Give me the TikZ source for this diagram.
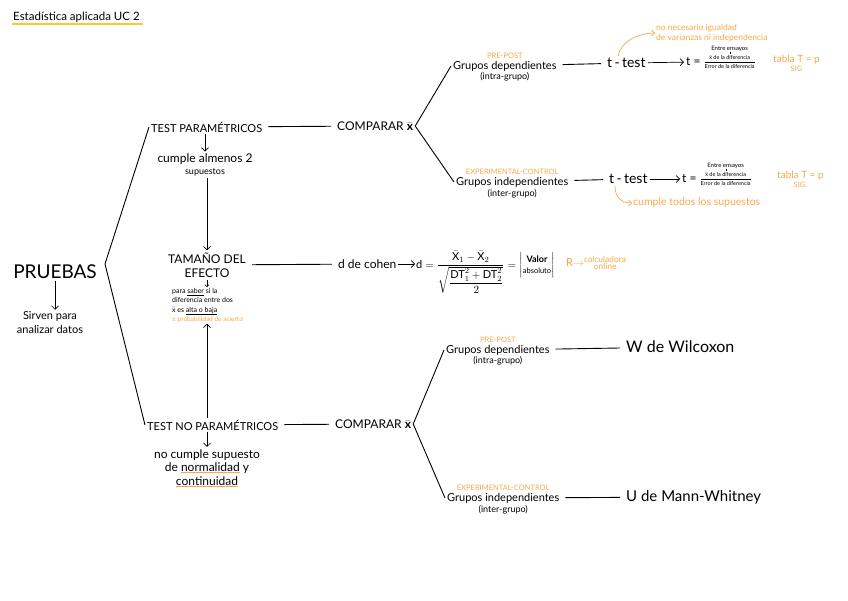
\documentclass[tikz,border=0pt]{standalone}
\usepackage{fontspec}
\setmainfont{Lato}
\usepackage{amsmath}
\usetikzlibrary{calc}
\usetikzlibrary{positioning}
\usetikzlibrary{arrows.meta}
\definecolor{naranja}{RGB}{247,168,74}
\definecolor{amarillo}{RGB}{246,204,40}

% underline in a given colour: [thickness]{colour}{text}
\newcommand{\subrayado}[3][0.5pt]{\setbox0\hbox{#3}\rlap{\color{#2}\rule[-1.8pt]{\wd0}{#1}}\box0\relax}

\begin{document}
\begin{tikzpicture}[x=1pt, y=-1pt,
	fs/.style 2 args = {font=\fontsize{#1}{#2}\selectfont},
	txt/.style = {inner sep=2pt, align=center},
	nota/.style = {inner sep=1pt, align=center, text=naranja},
	rama/.style = {line width=0.9pt, shorten <=4pt, shorten >=4pt},
	llave/.style = {line width=0.9pt},
	flecha/.style = {-{Straight Barb[length=3.5pt, width=7pt]}, line width=0.7pt},
	flechita/.style = {-{Straight Barb[length=2pt, width=4pt]}, line width=0.5pt},
	flechanota/.style = {-{Straight Barb[length=3pt, width=6pt]}, line width=0.7pt, draw=naranja}
]

\useasboundingbox (0,0) rectangle (848,600);

% Title with yellow underline
\node[txt, fs={11.5}{13}, anchor=base west] (titulo) at (11,20) {Estadística aplicada UC 2};
\draw[amarillo, line width=2pt] ($(titulo.base west)+(1,3.5)$) -- ($(titulo.base east)+(1,3.5)$);

% Root of the map
\node[txt, fs={19}{21}] (pruebas) at (55,272) {PRUEBAS};
\node[txt, fs={11}{14}] (sirven) at (50,323) {Sirven para\\analizar datos};
\draw[flecha] (pruebas) -- (pruebas |- sirven.north);
\coordinate (vertice) at (105,264);

% Parametric tests
\node[txt, fs={11}{13}, anchor=west] (param) at (149,127) {TEST PARAMÉTRICOS};
\node[txt, fs={12}{14}, anchor=west] (comparar1) at (335,126) {COMPARAR $\bar{\textbf{x}}$};
\draw[rama] (param) -- (comparar1);
\node[txt, fs={12}{12}] (cumple) at (205,165) {cumple almenos 2\\{\fontsize{9}{10}\selectfont supuestos}};
\draw[flecha] (param.south -| cumple) -- (cumple);

% Effect size
\node[txt, fs={12}{14}] (tamano) at (207,265) {TAMAÑO DEL\\EFECTO};
\draw[flecha] (tamano.north |- cumple.south) -- (tamano.north);
\node[txt, fs={12}{14}, anchor=west] (cohen) at (336,264) {d de cohen};
\draw[rama] (tamano) -- (cohen);
\node[inner sep=1pt, align=left, fs={7}{9.5}, anchor=north west] (explica) at (171,287) {para \subrayado{black}{saber} si la\\diferencia entre dos\\$\bar{\text{x}}$ es \subrayado{black}{alta o baja}};
\node[nota, fs={6.5}{7}, anchor=north west] (acierto) at (explica.south west) {± probabilidad de acierto};
\draw[flechita] (tamano) -- (tamano |- explica.north);

% Cohen formula
\node[inner sep=1pt, fs={11}{13}, anchor=base west] (formula) at (415,268) {$\text{d}=\dfrac{\bar{\text{X}}_1-\bar{\text{X}}_2}{\sqrt{\dfrac{\text{DT}_1^2+\text{DT}_2^2}{2}}}=\left|\begin{tabular}{@{}c@{}}{\fontsize{9}{9}\selectfont\bfseries Valor}\\[-2pt]{\fontsize{7.5}{8}\selectfont absoluto}\end{tabular}\right|$};
\draw[flecha] (cohen) -- (cohen -| formula.west);
\node[nota, fs={8.5}{8}, anchor=west] (calcu) at (565,264) {{\fontsize{11}{12}\selectfont R$\rightarrow$}\begin{tabular}{@{}c@{}}calculadora\\[-2pt]online\end{tabular}};

% Non-parametric tests
\node[txt, fs={11}{13}, anchor=west] (noparam) at (145,425) {TEST NO PARAMÉTRICOS};
\node[txt, fs={12}{14}, anchor=west] (comparar2) at (333,424) {COMPARAR $\bar{\textbf{x}}$};
\draw[rama] (noparam) -- (comparar2);
\node[txt, fs={12}{13.5}] (nocumple) at (207,468) {no cumple supuesto\\de \subrayado[1.2pt]{naranja}{normalidad} y\\\subrayado[1.2pt]{naranja}{continuidad}};
\draw[flecha] (noparam.south -| nocumple) -- (nocumple);
\draw[flecha] (tamano |- noparam.north) -- (tamano |- acierto.south);

% Bracket from the root
\draw[llave] (param.west) -- (vertice) -- (noparam.west);

% Parametric: dependent groups
\node[txt, fs={11}{13}, anchor=west] (gdep1) at (451,66) {Grupos dependientes};
\node[nota, fs={7.5}{8}, above=-1pt of gdep1] (prepost1) {PRE-POST};
\node[txt, fs={9}{10}, below=-3pt of gdep1] (intra1) {(intra-grupo)};
\node[txt, fs={14}{16}, anchor=west] (ttest1) at (605,63) {t\,-\,test};
\draw[rama] (gdep1) -- (ttest1);
\node[txt, fs={12}{14}, anchor=west] (tigual1) at (684,62) {t =};
\node[inner sep=0.5pt, fs={5.5}{6}, anchor=west] (frac1) at (tigual1.east) {$\dfrac{\text{$\bar{\text{x}}$ de la diferencia}}{\text{Error de la diferencia}}$};
\node[inner sep=0.5pt, fs={6}{7}, above=2.5pt of frac1] (entre1) {Entre ensayos};
\draw[line width=0.3pt] (entre1) -- (frac1);
\draw[flecha] (ttest1) -- (tigual1);
\node[nota, fs={10}{11}, anchor=west] (tabla1) at (772,60) {tabla T = p};
\node[nota, fs={7.5}{8}, below=-1pt of tabla1] (sig1) {SIG};
\node[nota, fs={8.5}{9.5}, align=left, anchor=west] (nota1) at (655,33) {no necesario igualdad\\de varianzas ni independencia};
\draw[flechanota] ($(ttest1.north)+(-8,0)$) .. controls +(2,-16) and +(-14,0) .. (nota1.west);

% Parametric: independent groups
\node[txt, fs={11}{13}, anchor=west] (gind1) at (454,182) {Grupos independientes};
\node[nota, fs={7.5}{8}, above=-1pt of gind1] (expcon1) {EXPERIMENTAL-CONTROL};
\node[txt, fs={9}{10}, below=-2pt of gind1] (inter1) {(inter-grupo)};
\node[txt, fs={14}{16}, anchor=west] (ttest2) at (607,179) {t\,-\,test};
\draw[rama] (gind1) -- (ttest2);
\node[txt, fs={12}{14}, anchor=west] (tigual2) at (680,179) {t =};
\node[inner sep=0.5pt, fs={5.5}{6}, anchor=west] (frac2) at (tigual2.east) {$\dfrac{\text{$\bar{\text{x}}$ de la diferencia}}{\text{Error de la diferencia}}$};
\node[inner sep=0.5pt, fs={6}{7}, above=2.5pt of frac2] (entre2) {Entre ensayos};
\draw[line width=0.3pt] (entre2) -- (frac2);
\draw[flecha] (ttest2) -- (tigual2);
\node[nota, fs={10}{11}, anchor=west] (tabla2) at (776,176) {tabla T = p};
\node[nota, fs={7.5}{8}, below=-1pt of tabla2] (sig2) {SIG.};
\node[nota, fs={10.5}{12}, anchor=west] (nota2) at (632,203) {cumple todos los supuestos};
\draw[flechanota] ($(ttest2.south west)+(8,0)$) .. controls +(0,12) and +(-10,0) .. (nota2.west);
\draw[llave] (gdep1.west) -- (comparar1.east) -- (gind1.west);

% Non-parametric: dependent groups
\node[txt, fs={11}{13}, anchor=west] (gdep2) at (444,350) {Grupos dependientes};
\node[nota, fs={7.5}{8}, above=-1pt of gdep2] (prepost2) {PRE-POST};
\node[txt, fs={9}{10}, below=-3pt of gdep2] (intra2) {(intra-grupo)};
\node[txt, fs={16}{18}, anchor=west] (wilcoxon) at (624,347) {W de Wilcoxon};
\draw[rama] (gdep2) -- (wilcoxon);

% Non-parametric: independent groups
\node[txt, fs={11}{13}, anchor=west] (gind2) at (445,498) {Grupos independientes};
\node[nota, fs={7.5}{8}, above=-1pt of gind2] (expcon2) {EXPERIMENTAL-CONTROL};
\node[txt, fs={9}{10}, below=-2pt of gind2] (inter2) {(inter-grupo)};
\node[txt, fs={15}{17}, anchor=west] (mann) at (624,497) {U de Mann-Whitney};
\draw[rama] (gind2) -- (mann);
\draw[llave] (gdep2.west) -- (comparar2.east) -- (gind2.west);

\end{tikzpicture}
\end{document}
